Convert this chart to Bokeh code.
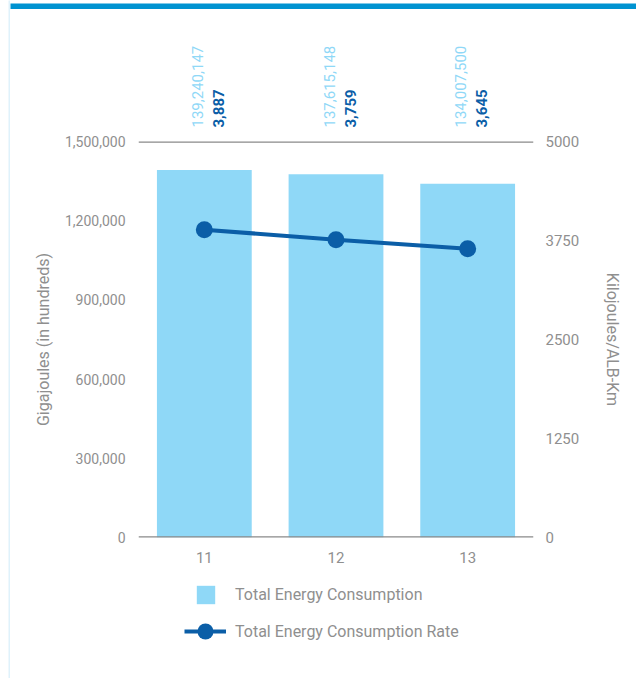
import math
from bokeh.plotting import figure
from bokeh.layouts import column, row
from bokeh.models import (ColumnDataSource, FactorRange, Range1d, LinearAxis, FixedTicker,
                          NumeralTickFormatter, Span, Legend, LegendItem, Spacer)
from bokeh.embed import file_html
from bokeh.resources import INLINE

# ---- data ----
years = ["11", "12", "13"]
consumption = [139240147, 137615148, 134007500]      # Gigajoules
rate = [3887, 3759, 3645]                             # Kilojoules/ALB-Km
left_ticks = [0, 300000, 600000, 900000, 1200000, 1500000]
right_ticks = [0, 1250, 2500, 3750, 5000]
series_names = ["Total Energy Consumption", "Total Energy Consumption Rate"]

FONT = "Roboto"
GREY = "#8f8f8f"
LINE_GREY = "#8a8a8a"
BAR = "#8fd8f7"
DARK = "#0b5ea7"
BAND = "#0093d1"
EDGE = "#dff2fb"

W = 626          # width of the chart column
BL = 128         # left border of frames
BR = 103         # right border of frames

bars_hundreds = [v / 100 for v in consumption]
src = ColumnDataSource(dict(
    x=years, bar=bars_hundreds, rate=rate,
    base=[0] * len(years),
    lab1=[f"{v:,}" for v in consumption],
    lab2=[f"{v:,}" for v in rate],
))
xr = FactorRange(*years)

def bare(fig):
    fig.grid.visible = False
    fig.outline_line_color = None
    return fig

def plain(width, height, **kw):
    return bare(figure(width=width, height=height, output_backend="svg",
                       toolbar_location=None, x_axis_type=None, y_axis_type=None,
                       min_border=0, **kw))

# ---- page decorations ----
edge = plain(2, 678, background_fill_color=EDGE)
band = plain(W, 9, background_fill_color=BAND)

# ---- value labels strip ----
top = plain(W, 120, x_range=xr, y_range=Range1d(0, 1),
            min_border_left=BL, min_border_right=BR)
top.text(x="x", y="base", text="lab1", source=src, angle=math.pi / 2,
         x_offset=-7, y_offset=-2, text_align="left", text_baseline="middle",
         text_font={"value": FONT}, text_font_size="15px", text_color=BAR)
top.text(x="x", y="base", text="lab2", source=src, angle=math.pi / 2,
         x_offset=14, y_offset=-2, text_align="left", text_baseline="middle",
         text_font={"value": FONT}, text_font_size="15px", text_color=DARK,
         text_font_style="bold")

# ---- main chart ----
p = figure(width=W, height=441, x_range=xr,
           y_range=Range1d(left_ticks[0], left_ticks[-1]),
           output_backend="svg", toolbar_location=None,
           min_border_left=BL, min_border_right=BR,
           min_border_top=12, min_border_bottom=33)
bare(p)
p.extra_y_ranges = {"rate": Range1d(right_ticks[0], right_ticks[-1])}

p.vbar(x="x", top="bar", width=0.72, source=src, fill_color=BAR, line_color=None)
p.line(x="x", y="rate", source=src, y_range_name="rate", line_color=DARK, line_width=4)
p.scatter(x="x", y="rate", source=src, y_range_name="rate", size=17,
          fill_color=DARK, line_color=None)

for loc in (left_ticks[0], left_ticks[-1]):
    p.add_layout(Span(location=loc, dimension="width", line_color=LINE_GREY, line_width=2.5))

ya = p.yaxis[0]
ya.ticker = FixedTicker(ticks=left_ticks)
ya.formatter = NumeralTickFormatter(format="0,0")
ya.axis_label = "Gigajoules (in hundreds)"

ra = LinearAxis(y_range_name="rate", ticker=FixedTicker(ticks=right_ticks),
                formatter=NumeralTickFormatter(format="0"),
                axis_label="Kilojoules/ALB-Km")
p.add_layout(ra, "right")

for ax in (ya, ra, p.xaxis[0]):
    ax.axis_line_color = None
    ax.major_tick_line_color = None
    ax.minor_tick_line_color = None
    ax.major_label_text_font = FONT
    ax.major_label_text_font_size = "15px"
    ax.major_label_text_color = GREY
    ax.axis_label_text_font = FONT
    ax.axis_label_text_font_size = "16px"
    ax.axis_label_text_color = GREY
    ax.axis_label_text_font_style = "normal"
ya.major_label_text_font_size = "14px"
ya.major_label_standoff = 7
ya.axis_label_standoff = 9
ra.major_label_standoff = 6
ra.axis_label_standoff = 21
p.xaxis[0].major_label_standoff = 8

# ---- legend strip ----
lg = plain(W, 108, x_range=Range1d(0, 1), y_range=Range1d(0, 1),
           min_border_left=BL, min_border_right=BR)
swatch = lg.vbar(x="base", top="base", source=src, width=0.1,
                 fill_color=BAR, line_color=None, visible=False)
lline = lg.line(x="base", y="base", source=src, line_color=DARK, line_width=4, visible=False)
ldot = lg.scatter(x="base", y="base", source=src, fill_color=DARK,
                  line_color=None, visible=False)

common = dict(orientation="vertical", padding=0, margin=0, spacing=0,
              border_line_color=None, background_fill_alpha=0, inactive_fill_alpha=0,
              label_text_font=FONT, label_text_font_size="16px",
              label_text_color=GREY, label_text_baseline="middle")
leg1 = Legend(items=[LegendItem(label=series_names[0], renderers=[swatch])],
              location=(56, 72), glyph_width=23, glyph_height=23, label_height=23,
              label_standoff=18, **common)
leg2 = Legend(items=[LegendItem(label=series_names[1], renderers=[lline, ldot])],
              location=(46, 27), glyph_width=42, glyph_height=40, label_height=40,
              label_standoff=9, **common)
lg.add_layout(leg1, "center")
lg.add_layout(leg2, "center")

layout = row(Spacer(width=8, height=678), edge,
             column(row(band), top, p, lg))
open("out.html", "w").write(file_html(layout, INLINE))
